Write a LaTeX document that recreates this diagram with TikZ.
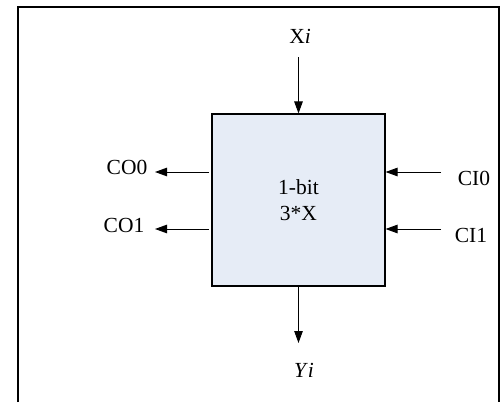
\documentclass[tikz,border=0pt]{standalone}
\usepackage{fontspec}
\setmainfont{Liberation Serif}
\usetikzlibrary{arrows.meta}
\definecolor{boxfill}{HTML}{E6ECF6}
\begin{document}
\begin{tikzpicture}[x=1pt,y=-1pt,
  lbl/.style={inner sep=0pt,font=\fontsize{21.5}{25}\selectfont},
  sig/.style={line width=1pt,-{Triangle[length=12pt,width=8.5pt]}},
  blockbox/.style={draw,line width=1.1pt,fill=boxfill,minimum width=173pt,minimum height=172pt,inner sep=0pt,align=center,font=\fontsize{21.5}{26}\selectfont}]
\useasboundingbox (0,0) rectangle (501,402);
\draw[line width=1.3pt] (18,402) -- (18,7) -- (499,7) -- (499,402);
\node[blockbox] (blk) at (298.5,200) {1-bit\\3*X};
% labels
\node[lbl] (xi) at (300,36) {X\textit{i}};
\node[lbl] (yi) at (304,370) {\textit{Y}\textit{i}};
\node[lbl] (co0) at (127,167) {CO0};
\node[lbl] (co1) at (124,225) {CO1};
\node[lbl] (ci0) at (474,178) {CI0};
\node[lbl] (ci1) at (471,235) {CI1};
% free ends
\coordinate (xin) at (298.5,57);
\coordinate (yout) at (298.5,343);
\coordinate (co0s) at (209,172);
\coordinate (co0e) at (155,172);
\coordinate (co1s) at (209,229);
\coordinate (co1e) at (155,229);
\coordinate (ci0s) at (441,172);
\coordinate (ci1s) at (441,229);
% connectors
\draw[sig] (xin) -- (blk.north);
\draw[sig] (blk.south) -- (yout);
\draw[sig] (co0s) -- (co0e);
\draw[sig] (co1s) -- (co1e);
\draw[sig] (ci0s) -- (ci0s -| blk.east);
\draw[sig] (ci1s) -- (ci1s -| blk.east);
\end{tikzpicture}
\end{document}
